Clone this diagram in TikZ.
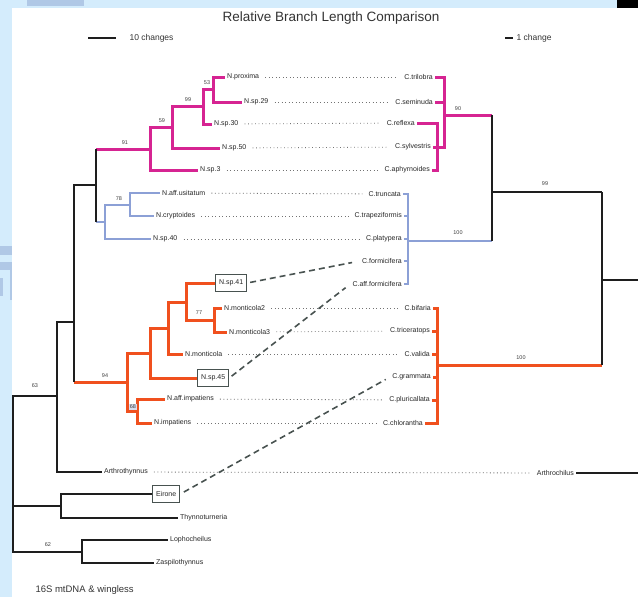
\documentclass[tikz,border=0pt]{standalone}
\usepackage{fontspec}
\setmainfont{Liberation Sans}
\definecolor{treemag}{RGB}{214,36,146}
\definecolor{treeblue}{RGB}{140,160,214}
\definecolor{treeorange}{RGB}{240,80,30}
\definecolor{treeink}{RGB}{30,30,30}
\definecolor{linkgray}{RGB}{72,82,80}
\definecolor{framebl}{RGB}{212,236,252}
\definecolor{framedk}{RGB}{176,200,230}
\begin{document}
\begin{tikzpicture}[x=1pt, y=-1pt,
	tip/.style={font=\fontsize{7}{8}\selectfont, text=black!85, inner xsep=2pt, inner ysep=1pt},
	ntip/.style={tip, anchor=west},
	ctip/.style={tip, anchor=east},
	boxtip/.style={ntip, draw=linkgray, line width=1.1pt, inner xsep=3.5pt, minimum height=17pt},
	supp/.style={font=\fontsize{5.5}{6.5}\selectfont, text=black!75, inner sep=0pt},
	magbr/.style={draw=treemag, line width=3pt},
	bluebr/.style={draw=treeblue, line width=2.4pt},
	orgbr/.style={draw=treeorange, line width=3pt},
	inkbr/.style={draw=treeink, line width=1.9pt},
	dotlink/.style={draw=black!55, line width=0.8pt, dash pattern=on 0.9pt off 2.6pt, shorten <=4pt, shorten >=4pt},
	dashlink/.style={draw=linkgray, line width=1.6pt, dash pattern=on 6pt off 4pt}]
	\useasboundingbox (0,0) rectangle (638,597);
	% frame of the screenshot
	\fill[framebl] (0,0) rectangle (12,597);
	\fill[framebl] (0,0) rectangle (617,8);
	\fill[black] (617,0) rectangle (638,8);
	\fill[framedk] (27,0) rectangle (84,6);
	\fill[framedk] (0,246) rectangle (12,255);
	\fill[framedk] (0,262) rectangle (12,270);
	\fill[framedk] (10,270) rectangle (12,300);
	\fill[framedk] (0,278) rectangle (3,296);

	\node[font=\fontsize{13.5}{15}\selectfont, text=black!80] (title) at (331,18) {Relative Branch Length Comparison};
	\coordinate (bar10a) at (88,38);
	\coordinate (bar10b) at (116,38);
	\coordinate (bar1a) at (505,38);
	\coordinate (bar1b) at (513,38);
	\draw[treeink, line width=2pt] (bar10a) -- (bar10b);
	\draw[treeink, line width=2pt] (bar1a) -- (bar1b);
	\node[anchor=west, font=\fontsize{8.5}{10}\selectfont, text=black!80] (lab10) at (126,38) {10 changes};
	\node[anchor=west, font=\fontsize{8.5}{10}\selectfont, text=black!80] (lab1) at (513,38) {1 change};
	\node[anchor=west, font=\fontsize{9.5}{11}\selectfont, text=black!80] (data) at (32,590) {16S mtDNA \& wingless};

	% internal nodes, left tree
	\coordinate (r0) at (13,474);
	\coordinate (n63) at (57,396);
	\coordinate (n1) at (74,322);
	\coordinate (n2) at (96,185);
	\coordinate (mA) at (150,149);
	\coordinate (mB) at (172,127);
	\coordinate (mC) at (203,106);
	\coordinate (mD) at (213,89);
	\coordinate (bA) at (105,222);
	\coordinate (bB) at (130,205);
	\coordinate (o1) at (127,382);
	\coordinate (o2) at (150,353);
	\coordinate (o3) at (168,328);
	\coordinate (o4) at (186,302);
	\coordinate (o5) at (214,320);
	\coordinate (oI) at (137,411);
	\coordinate (eA) at (61,506);
	\coordinate (lA) at (82,552);
	% internal nodes, right tree
	\coordinate (rM1) at (437,147);
	\coordinate (rM2) at (444,115);
	\coordinate (rB) at (408,241);
	\coordinate (rR) at (492,192);
	\coordinate (rO) at (437,365);
	\coordinate (rT) at (602,280);
	\coordinate (rEnd) at (638,280);
	\coordinate (aEnd) at (638,473);

	% left tips
	\node[ntip] (nm1) at (225,77) {N.proxima};
	\node[ntip] (nm2) at (242,102) {N.sp.29};
	\node[ntip] (nm3) at (212,124) {N.sp.30};
	\node[ntip] (nm4) at (220,148) {N.sp.50};
	\node[ntip] (nm5) at (198,170) {N.sp.3};
	\node[ntip] (nb1) at (160,193) {N.aff.usitatum};
	\node[ntip] (nb2) at (154,216) {N.cryptoides};
	\node[ntip] (nb3) at (151,239) {N.sp.40};
	\node[boxtip] (no1) at (215,283) {N.sp.41};
	\node[ntip] (no2) at (222,308) {N.monticola2};
	\node[ntip] (no3) at (227,332) {N.monticola3};
	\node[ntip] (no4) at (183,354) {N.monticola};
	\node[boxtip] (no5) at (197,378) {N.sp.45};
	\node[ntip] (no6) at (165,399) {N.aff.impatiens};
	\node[ntip] (no7) at (152,423) {N.impatiens};
	\node[ntip] (art) at (102,472) {Arthrothynnus};
	\node[boxtip] (eir) at (152,494) {Eirone};
	\node[ntip] (thy) at (178,518) {Thynnoturneria};
	\node[ntip] (lop) at (168,540) {Lophocheilus};
	\node[ntip] (zas) at (154,563) {Zaspilothynnus};
	% right tips
	\node[ctip] (ct1) at (435,77) {C.trilobra};
	\node[ctip] (ct2) at (435,102) {C.seminuda};
	\node[ctip] (ct3) at (417,123) {C.reflexa};
	\node[ctip] (ct4) at (433,147) {C.sylvestris};
	\node[ctip] (ct5) at (432,170) {C.aphyrnoides};
	\node[ctip] (cb1) at (403,194) {C.truncata};
	\node[ctip] (cb2) at (404,216) {C.trapeziformis};
	\node[ctip] (cb3) at (404,239) {C.platypera};
	\node[ctip] (cb4) at (404,261) {C.formicifera};
	\node[ctip] (cb5) at (404,284) {C.aff.formicifera};
	\node[ctip] (co1) at (433,308) {C.bifaria};
	\node[ctip] (co2) at (432,331) {C.triceratops};
	\node[ctip] (co3) at (432,354) {C.valida};
	\node[ctip] (co4) at (433,377) {C.grammata};
	\node[ctip] (co5) at (432,400) {C.pluricallata};
	\node[ctip] (co6) at (425,423) {C.chlorantha};
	\node[ctip] (arc) at (576,473) {Arthrochilus};

	% links between the two trees
	\draw[dotlink] (nm1) -- (ct1);
	\draw[dotlink] (nm2) -- (ct2);
	\draw[dotlink] (nm3) -- (ct3);
	\draw[dotlink] (nm4) -- (ct4);
	\draw[dotlink] (nm5) -- (ct5);
	\draw[dotlink] (nb1) -- (cb1);
	\draw[dotlink] (nb2) -- (cb2);
	\draw[dotlink] (nb3) -- (cb3);
	\draw[dotlink] (no2) -- (co1);
	\draw[dotlink] (no3) -- (co2);
	\draw[dotlink] (no4) -- (co3);
	\draw[dotlink] (no6) -- (co5);
	\draw[dotlink] (no7) -- (co6);
	\draw[dotlink] (art) -- (arc);
	\draw[dashlink, shorten <=3pt, shorten >=8pt] (no1.east) -- (cb4.west);
	\draw[dashlink, shorten <=3pt, shorten >=6pt] (no5.east) -- (cb5.west);
	\draw[dashlink, shorten <=4pt, shorten >=5pt] (eir.east) -- (co4.west);

	% left tree
	\draw[magbr] (n2 |- mA) -- (mA);
	\draw[magbr] (mA) |- (mB) (mA) |- (nm5.west) (mB) |- (mC) (mB) |- (nm4.west)
		(mC) |- (mD) (mC) |- (nm3.west) (mD) |- (nm1.west) (mD) |- (nm2.west);
	\draw[bluebr] (n2 |- bA) -- (bA);
	\draw[bluebr] (bA) |- (bB) (bA) |- (nb3.west) (bB) |- (nb1.west) (bB) |- (nb2.west);
	\draw[orgbr] (n1 |- o1) -- (o1);
	\draw[orgbr] (o1) |- (o2) (o1) |- (oI) (o2) |- (o3) (o2) |- (no5.west)
		(o3) |- (o4) (o3) |- (no4.west) (o4) |- (no1.west) (o4) |- (o5)
		(o5) |- (no2.west) (o5) |- (no3.west) (oI) |- (no6.west) (oI) |- (no7.west);
	\draw[inkbr] (n2 |- mA) -- (n2 |- bA);
	\draw[inkbr] (n1) |- (n2) (n1) -- (n1 |- o1);
	\draw[inkbr] (n63) |- (n1) (n63) |- (art.west);
	\draw[inkbr] (r0) |- (n63) (r0) |- (eA) (r0) |- (lA);
	\draw[inkbr] (eA) |- (eir.west) (eA) |- (thy.west);
	\draw[inkbr] (lA) |- (lop.west) (lA) |- (zas.west);

	% right tree
	\draw[magbr] (rM2) |- (ct1.east) (rM2) |- (ct2.east) (rM2) |- (rM1)
		(rM1) |- (ct3.east) (rM1) |- (ct4.east) (rM1) |- (ct5.east);
	\draw[magbr] (rM2) -- (rR |- rM2);
	\draw[bluebr, line width=1.7pt] (rB) -- (rR |- rB);
	\draw[bluebr, line width=2.2pt] (rB) |- (cb1.east) (rB) |- (cb2.east) (rB) |- (cb3.east)
		(rB) |- (cb4.east) (rB) |- (cb5.east);
	\draw[orgbr] (rO) -- (rT |- rO);
	\draw[orgbr] (rO) |- (co1.east) (rO) |- (co2.east) (rO) |- (co3.east)
		(rO) |- (co4.east) (rO) |- (co5.east) (rO) |- (co6.east);
	\draw[inkbr] (rR |- rM2) -- (rR |- rB);
	\draw[inkbr] (rR) -- (rT |- rR);
	\draw[inkbr] (rT |- rR) -- (rT |- rO);
	\draw[inkbr] (rT) -- (rEnd);
	\draw[inkbr] (arc.east) -- (aEnd);

	% support values
	\node[supp] (s53) at (207,83) {53};
	\node[supp] (s99a) at (188,100) {99};
	\node[supp] (s59) at (162,121) {59};
	\node[supp] (s91) at (125,143) {91};
	\node[supp] (s78) at (119,199) {78};
	\node[supp] (s94) at (105,376) {94};
	\node[supp] (s77) at (199,313) {77};
	\node[supp, fill=treeblue!35, inner sep=1pt] (s68) at (133,407) {68};
	\node[supp] (s63) at (35,386) {63};
	\node[supp] (s62) at (48,545) {62};
	\node[supp] (s90) at (458,109) {90};
	\node[supp] (s100a) at (458,233) {100};
	\node[supp] (s99b) at (545,184) {99};
	\node[supp] (s100b) at (521,358) {100};
\end{tikzpicture}
\end{document}
